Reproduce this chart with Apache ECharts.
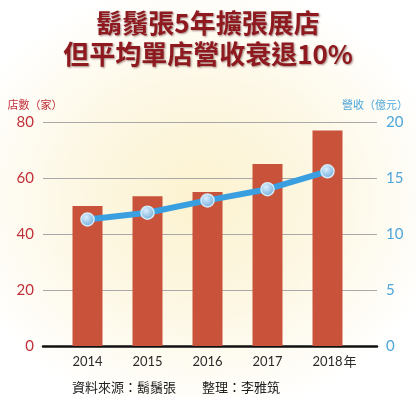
<!DOCTYPE html>
<html>
<head>
<meta charset="utf-8">
<script src="https://cdn.jsdelivr.net/npm/echarts@6/dist/echarts.min.js"></script>
<style>
  html, body { margin: 0; padding: 0; }
  #chart {
    width: 416px; height: 398px;
    background: radial-gradient(ellipse 60% 55% at 48% 50%, #fcf2cf 0%, #fdf8e6 55%, #ffffff 100%);
  }
</style>
</head>
<body>
<div id="chart"></div>
<script>
  const years = ['2014', '2015', '2016', '2017', '2018'];
  const storeCounts = [50, 53.5, 55, 65, 77];
  const revenue = [11.3, 11.9, 13, 14, 15.6];
  const leftTicks = [0, 80, 20];
  const rightTicks = [0, 20, 5];

  const chart = echarts.init(document.getElementById('chart'));
  const cjk = '"Noto Sans CJK TC", sans-serif';
  const num = 'Lato, "Noto Sans", sans-serif';

  const option = {
    title: {
      text: '鬍鬚張5年擴張展店\n但平均單店營收衰退10%',
      left: 'center',
      top: 3,
      textStyle: {
        fontFamily: cjk,
        fontSize: 26,
        lineHeight: 31,
        fontWeight: 'bold',
        color: '#8e1a1f',
        textShadowColor: 'rgba(60,0,0,0.45)',
        textShadowBlur: 2,
        textShadowOffsetX: 1,
        textShadowOffsetY: 1,
      },
    },
    grid: [
      { left: 43, right: 39, top: 122, bottom: 52 },
      { left: 57.5, right: 58.5, top: 122, bottom: 52 },
    ],
    xAxis: [
      {
        gridIndex: 0, type: 'value', min: 0, max: 1,
        axisLine: { show: true, lineStyle: { color: '#111', width: 2.5 } },
        axisTick: { show: false }, axisLabel: { show: false }, splitLine: { show: false },
      },
      {
        gridIndex: 1, type: 'category', data: years,
        axisLine: { show: false }, axisTick: { show: false },
        axisLabel: {
          interval: 0,
          margin: 9,
          color: '#2a2a2a',
          fontFamily: num,
          fontSize: 13,
          formatter: (v, i) => i === years.length - 1 ? '{pad|}' + v + '{y|年}' : v,
          rich: {
            pad: { width: 14 },
            y: { fontFamily: cjk, fontSize: 13, color: '#2a2a2a', padding: [0, 0, 0, 1] },
          },
        },
      },
    ],
    yAxis: [
      {
        gridIndex: 0, type: 'value',
        min: leftTicks[0], max: leftTicks[1], interval: leftTicks[2],
        name: '店數（家）',
        nameGap: 12,
        nameTextStyle: { color: '#c0303a', fontFamily: cjk, fontSize: 11, align: 'center', padding: [0, 16, 0, 0] },
        axisLine: { show: false }, axisTick: { show: false },
        axisLabel: { color: '#c0303a', fontFamily: num, fontSize: 15, margin: 9 },
        splitLine: { lineStyle: { color: '#a8a8a8', width: 1 } },
      },
      {
        gridIndex: 0, type: 'value', position: 'right',
        min: rightTicks[0], max: rightTicks[1], interval: rightTicks[2],
        name: '營收（億元）',
        nameGap: 12,
        nameTextStyle: { color: '#4ea6da', fontFamily: cjk, fontSize: 11, align: 'center', padding: [0, 4, 0, 0] },
        axisLine: { show: false }, axisTick: { show: false },
        axisLabel: { color: '#4ea6da', fontFamily: num, fontSize: 15, margin: 9 },
        splitLine: { show: false },
      },
      { gridIndex: 1, type: 'value', min: leftTicks[0], max: leftTicks[1], show: false },
      { gridIndex: 1, type: 'value', min: rightTicks[0], max: rightTicks[1], show: false },
    ],
    series: [
      {
        type: 'bar',
        xAxisIndex: 1, yAxisIndex: 2,
        data: storeCounts,
        barWidth: 30,
        itemStyle: { color: '#c9533a' },
      },
      {
        type: 'line',
        xAxisIndex: 1, yAxisIndex: 3,
        data: revenue,
        lineStyle: { color: '#3a9fe0', width: 6 },
        symbol: 'circle',
        symbolSize: 13,
        itemStyle: {
          color: {
            type: 'radial', x: 0.4, y: 0.35, r: 0.7,
            colorStops: [
              { offset: 0, color: '#dcefff' },
              { offset: 1, color: '#6aa8d8' },
            ],
          },
          borderColor: '#d6ebf8',
          borderWidth: 1.5,
        },
        z: 5,
      },
    ],
    graphic: [
      {
        type: 'text',
        left: 72,
        top: 381,
        style: {
          text: '資料來源：鬍鬚張　　整理：李雅筑',
          fontFamily: cjk,
          fontSize: 13,
          fill: '#222',
        },
      },
    ],
  };

  chart.setOption(option);
</script>
</body>
</html>
